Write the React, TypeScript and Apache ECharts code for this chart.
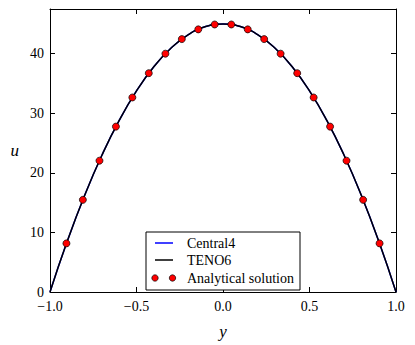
import React, { useEffect, useRef } from "react";
import * as echarts from "echarts";

// Curve samples (y, u)
const curveY = [-1.0, -0.9, -0.8, -0.7, -0.6, -0.5, -0.4, -0.3, -0.2, -0.1, 0.0, 0.1, 0.2, 0.3, 0.4, 0.5, 0.6, 0.7, 0.8, 0.9, 1.0];
const central4U = [0, 8.55, 16.2, 22.95, 28.8, 33.75, 37.8, 40.95, 43.2, 44.55, 45.0, 44.55, 43.2, 40.95, 37.8, 33.75, 28.8, 22.95, 16.2, 8.55, 0];
const teno6U = [0, 8.55, 16.2, 22.95, 28.8, 33.75, 37.8, 40.95, 43.2, 44.55, 45.0, 44.55, 43.2, 40.95, 37.8, 33.75, 28.8, 22.95, 16.2, 8.55, 0];

// Analytical solution points
const exactY = [-0.905, -0.81, -0.714, -0.619, -0.524, -0.429, -0.333, -0.238, -0.143, -0.048, 0.048, 0.143, 0.238, 0.333, 0.429, 0.524, 0.619, 0.714, 0.81, 0.905];
const exactU = [8.16, 15.47, 22.04, 27.76, 32.65, 36.73, 40.0, 42.45, 44.08, 44.9, 44.9, 44.08, 42.45, 40.0, 36.73, 32.65, 27.76, 22.04, 15.47, 8.16];

const legendNames = ["Central4", "TENO6", "Analytical solution"];

const FONT = "Liberation Serif";

function fmtX(v: number) {
  const s = Math.abs(v).toFixed(1);
  return v < 0 ? "\u2212" + s : s;
}

export default function App() {
  const ref = useRef<HTMLDivElement>(null);
  useEffect(() => {
    if (!ref.current) return;
    const chart = echarts.init(ref.current, undefined, { renderer: "svg" });
    const axisLine = { show: true, onZero: false, lineStyle: { color: "#000", width: 1 } };
    const tick = { show: true, inside: true, length: 5, lineStyle: { color: "#000", width: 1 } };
    const legendText = (i: number, y: number) => ({
      type: "text", x: 187, y, z: 11,
      style: { text: legendNames[i], fill: "#000", fontFamily: FONT, fontSize: 14, verticalAlign: "middle" },
    });
    chart.setOption({
      animation: false,
      backgroundColor: "#fff",
      grid: { left: 50, top: 9, right: 19, bottom: 49, containLabel: false },
      xAxis: [
        {
          type: "value", min: -1, max: 1, interval: 0.5, position: "bottom",
          axisLine, axisTick: tick, splitLine: { show: false },
          axisLabel: { color: "#000", fontFamily: FONT, fontSize: 14, margin: 7, formatter: fmtX },
          name: "y", nameLocation: "middle", nameGap: 31,
          nameTextStyle: { color: "#000", fontFamily: FONT, fontSize: 17, fontStyle: "italic" },
        },
        {
          type: "value", min: -1, max: 1, interval: 0.5, position: "top",
          axisLine, axisTick: tick, splitLine: { show: false }, axisLabel: { show: false },
        },
      ],
      yAxis: [
        {
          type: "value", min: 0, max: 47.5, interval: 10, position: "left",
          axisLine, axisTick: tick, splitLine: { show: false },
          axisLabel: {
            color: "#000", fontFamily: FONT, fontSize: 14, margin: 6, showMaxLabel: false,
            formatter: (v: number) => (v % 10 === 0 ? String(v) : ""),
          },
          name: "u", nameLocation: "middle", nameGap: 31, nameRotate: 0,
          nameTextStyle: { color: "#000", fontFamily: FONT, fontSize: 17, fontStyle: "italic" },
        },
        {
          type: "value", min: 0, max: 47.5, interval: 10, position: "right",
          axisLine, axisTick: tick, splitLine: { show: false }, axisLabel: { show: false },
        },
      ],
      series: [
        {
          name: legendNames[0], type: "line", showSymbol: false, smooth: true,
          data: curveY.map((y, i) => [y, central4U[i]]),
          lineStyle: { color: "#0000ff", width: 1.5 }, z: 2,
        },
        {
          name: legendNames[1], type: "line", showSymbol: false, smooth: true,
          data: curveY.map((y, i) => [y, teno6U[i]]),
          lineStyle: { color: "#000", width: 1.5 }, z: 3,
        },
        {
          name: legendNames[2], type: "scatter", symbol: "circle", symbolSize: 7,
          data: exactY.map((y, i) => [y, exactU[i]]),
          itemStyle: { color: "#ff0000", borderColor: "#000", borderWidth: 0.7, opacity: 1 }, z: 4,
        },
      ],
      graphic: [
        {
          type: "rect", shape: { x: 146, y: 232, width: 154, height: 58 }, z: 10,
          style: { fill: "#fff", stroke: "#000", lineWidth: 1 },
        },
        { type: "line", shape: { x1: 155, y1: 243, x2: 173, y2: 243 }, z: 11, style: { stroke: "#0000ff", lineWidth: 1.5 } },
        { type: "line", shape: { x1: 155, y1: 260, x2: 173, y2: 260 }, z: 11, style: { stroke: "#000", lineWidth: 1.5 } },
        { type: "circle", shape: { cx: 155, cy: 278, r: 3.2 }, z: 11, style: { fill: "#ff0000", stroke: "#000", lineWidth: 0.7 } },
        { type: "circle", shape: { cx: 172.5, cy: 278, r: 3.2 }, z: 11, style: { fill: "#ff0000", stroke: "#000", lineWidth: 0.7 } },
        legendText(0, 243),
        legendText(1, 260),
        legendText(2, 278),
      ],
    });
    return () => chart.dispose();
  }, []);
  return <div ref={ref} style={{ position: "fixed", left: 0, top: 0, width: 415, height: 345 }} />;
}
